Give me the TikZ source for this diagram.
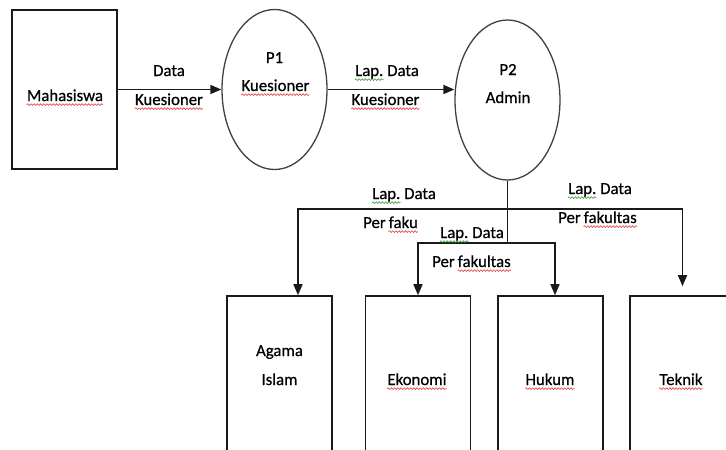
\documentclass[tikz,border=0pt]{standalone}
\usepackage{fontspec}
\setmainfont{Carlito}[FakeBold=0.6]
\usetikzlibrary{shapes.geometric,arrows.meta,decorations.pathmorphing}
\definecolor{inkline}{HTML}{1A1A1A}
\definecolor{ovalline}{HTML}{404040}
\definecolor{spellred}{HTML}{E83A3A}
\definecolor{spellgreen}{HTML}{3A9A3A}
% wavy spell-check mark under a named word node
\newcommand\squig[2]{\draw[squiggle,draw=#1] ([yshift=-3.6pt]#2.base west) -- ([yshift=-3.6pt]#2.base east);}
\begin{document}
\begin{tikzpicture}[x=1pt,y=-1pt,
  lbl/.style={anchor=base, inner sep=0pt, font=\fontsize{16.8}{28}\selectfont, text=black},
  lblw/.style={lbl, anchor=base west},
  entity/.style={draw=inkline, line width=1.6pt, minimum width=105pt, minimum height=159pt, inner sep=0pt},
  lowbox/.style={entity, minimum height=174pt},
  proc/.style={draw=ovalline, ellipse, line width=1.3pt, minimum width=105pt, minimum height=160pt, inner sep=0pt},
  flow/.style={draw=inkline, line width=1.6pt},
  arrowflow/.style={flow, -{Triangle[length=11pt,width=9pt]}},
  squiggle/.style={line width=0.6pt, decorate, decoration={snake, amplitude=0.9pt, segment length=3.2pt}}]
\useasboundingbox (0,0) rectangle (726,450);

% entities and processes
\node[entity] (mah) at (64.5,89.5) {};
\node[proc] (p1) at (274.5,89.5) {};
\node[proc] (p2) at (507.5,100) {};

\begin{scope}
\clip (0,0) rectangle (726,450);
\node[lowbox] (agama) at (279.5,383) {};
\node[lowbox] (ekonomi) at (418,383) {};
\node[lowbox] (hukum) at (550.5,383) {};
\node[lowbox] (teknik) at (682.5,383) {};
\end{scope}

% flows
\draw[arrowflow] (mah.east) -- (p1.west);
\draw[arrowflow] (p1.east) -- (p1.east -| p2.west);

\coordinate (j1) at (p2.south |- 0,209);
\coordinate (j2) at (p2.south |- 0,243);
\coordinate (dropA) at (298,209);
\coordinate (dropD) at (555,243);
\draw[flow] (p2.south) -- (j2);
\draw[arrowflow] (j1) -| (dropA |- agama.north);
\draw[arrowflow, shorten >=9pt] (j1) -| (teknik.north);
\draw[arrowflow] (j2) -| (ekonomi.north);
\draw[arrowflow] (j2) -| (dropD |- hukum.north);

% texts
\node[lbl] (mahT) at (65,101) {Mahasiswa};
\node[lbl] (f1a) at (169,76) {Data};
\node[lbl] (f1b) at (169,105) {Kuesioner};
\node[lbl] (p1a) at (274.5,63) {P1};
\node[lbl] (p1b) at (275.5,91) {Kuesioner};
\node[lblw] (f2a1) at (355,76) {Lap.};
\node[lblw] (f2a2) at ([xshift=3.4pt]f2a1.base east) {Data};
\node[lbl] (f2b) at (385.5,105) {Kuesioner};
\node[lbl] (p2a) at (508,75) {P2};
\node[lbl] (p2b) at (508,103) {Admin};
\node[lblw] (f3a1) at (372,199) {Lap.};
\node[lblw] (f3a2) at ([xshift=3.4pt]f3a1.base east) {Data};
\node[lblw] (f3b1) at (363,228) {Per};
\node[lblw] (f3b2) at ([xshift=2.6pt]f3b1.base east) {faku};
\node[lblw] (f4a1) at (440,238) {Lap.};
\node[lblw] (f4a2) at ([xshift=3.4pt]f4a1.base east) {Data};
\node[lblw] (f4b1) at (432,267) {Per};
\node[lblw] (f4b2) at ([xshift=2.6pt]f4b1.base east) {fakultas};
\node[lblw] (f5a1) at (568,194) {Lap.};
\node[lblw] (f5a2) at ([xshift=3.4pt]f5a1.base east) {Data};
\node[lblw] (f5b1) at (558,223) {Per};
\node[lblw] (f5b2) at ([xshift=2.6pt]f5b1.base east) {fakultas};
\node[lbl] (agT1) at (279.5,356) {Agama};
\node[lbl] (agT2) at (279.5,385) {Islam};
\node[lbl] (ekT) at (417,385) {Ekonomi};
\node[lbl] (huT) at (550,385) {Hukum};
\node[lbl] (teT) at (681,385) {Teknik};

% spell-check marks
\squig{spellred}{mahT}
\squig{spellred}{f1b}
\squig{spellred}{p1b}
\squig{spellred}{f2b}
\squig{spellgreen}{f2a1}
\squig{spellgreen}{f3a1}
\squig{spellgreen}{f4a1}
\squig{spellgreen}{f5a1}
\squig{spellred}{f3b2}
\squig{spellred}{f4b2}
\squig{spellred}{f5b2}
\squig{spellred}{ekT}
\squig{spellred}{huT}
\squig{spellred}{teT}
\end{tikzpicture}
\end{document}
